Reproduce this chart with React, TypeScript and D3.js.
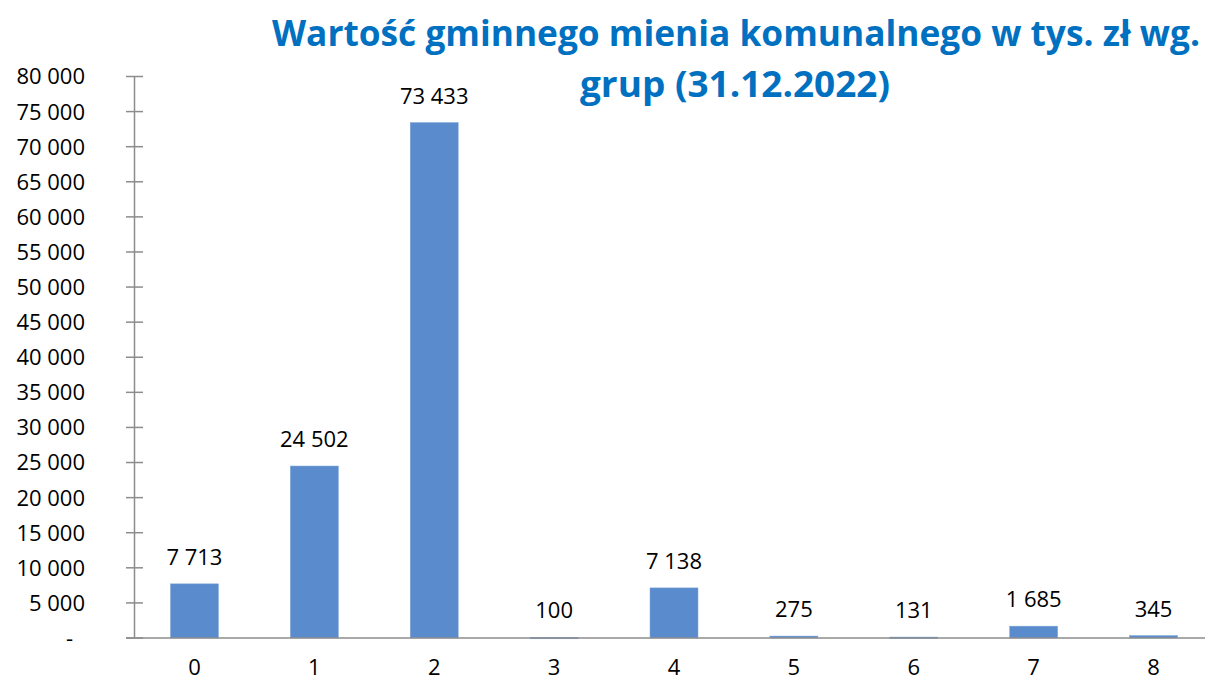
import React from "react";
import * as d3 from "d3";

const categories = ["0", "1", "2", "3", "4", "5", "6", "7", "8"];
const values = [7713, 24502, 73433, 100, 7138, 275, 131, 1685, 345];
const yTicks = [0, 5000, 10000, 15000, 20000, 25000, 30000, 35000, 40000, 45000, 50000, 55000, 60000, 65000, 70000, 75000, 80000];
const titleLines = ["Wartość gminnego mienia komunalnego w tys. zł wg.", "grup (31.12.2022)"];

const W = 1205;
const H = 682;
const FONT = "'Open Sans', sans-serif";

const locale = d3.formatLocale({ decimal: ",", thousands: " ", grouping: [3], currency: ["", ""] });
const fmt = locale.format(",.0f");

export default function App() {
  const x = d3.scaleBand<string>().domain(categories).range([134.5, 1213.5]).paddingInner(0.6).paddingOuter(0.3);
  const y = d3.scaleLinear().domain([0, 80000]).range([638, 76.5]);
  const axisColor = "#8c8c8c";
  const titleColor = "#0070C0";
  const barColor = "#5A8BCC";
  const x0 = 134.5;
  const y0 = y(0);

  return (
    <div style={{ position: "fixed", left: 0, top: 0 }}>
      <svg width={W} height={H} style={{ display: "block", background: "#fff" }}>
        <text x={736} y={46} textAnchor="middle" fill={titleColor} fontFamily="'Open Sans', sans-serif" fontWeight="bold" fontSize={35} textLength={928} lengthAdjust="spacingAndGlyphs">
          {titleLines[0]}
        </text>
        <text x={735} y={97} textAnchor="middle" fill={titleColor} fontFamily="'Open Sans', sans-serif" fontWeight="bold" fontSize={35} textLength={310} lengthAdjust="spacingAndGlyphs">
          {titleLines[1]}
        </text>

        {/* y axis */}
        <line x1={x0} x2={x0} y1={y(80000)} y2={y0} stroke={axisColor} strokeWidth={1.5} />
        {yTicks.map((t) => (
          <g key={t}>
            <line x1={126} x2={143} y1={y(t)} y2={y(t)} stroke={axisColor} strokeWidth={1.5} />
            <text x={t === 0 ? 73 : 85} y={y(t)} dy="0.36em" textAnchor="end" fontFamily={FONT} fontSize={22} fill="#000">
              {t === 0 ? "-" : fmt(t)}
            </text>
          </g>
        ))}

        {/* bars */}
        {categories.map((c, i) => (
          <rect key={c} x={x(c)} y={y(values[i])} width={x.bandwidth()} height={Math.max(1.5, y0 - y(values[i]))} fill={barColor} stroke="#7aa3d8" strokeWidth={0.5} />
        ))}

        {/* x axis */}
        <line x1={126} x2={W} y1={y0} y2={y0} stroke={axisColor} strokeWidth={1.5} />

        {/* data labels */}
        {categories.map((c, i) => (
          <text key={"l" + c} x={(x(c) as number) + x.bandwidth() / 2} y={y(values[i]) - 19} textAnchor="middle" fontFamily={FONT} fontSize={22} fill="#000">
            {fmt(values[i])}
          </text>
        ))}

        {/* x labels */}
        {categories.map((c) => (
          <text key={"x" + c} x={(x(c) as number) + x.bandwidth() / 2} y={675} textAnchor="middle" fontFamily={FONT} fontSize={22} fill="#000">
            {c}
          </text>
        ))}
      </svg>
    </div>
  );
}
